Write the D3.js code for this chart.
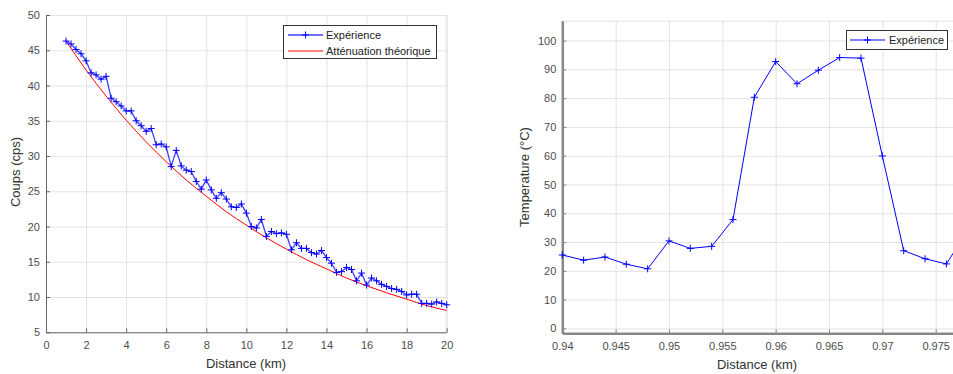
<!DOCTYPE html>
<html>
<head>
<meta charset="utf-8">
<script src="https://cdn.jsdelivr.net/npm/d3@7"></script>
<style>
body{margin:0;background:#fff;}
svg{display:block;font-family:"Liberation Sans",Arial,sans-serif;}
.tick text{fill:#4d4d4d;font-size:11px;}
.grid line{stroke:#e3e3e3;}
.grid path{display:none;}
</style>
</head>
<body>
<svg id="svg" width="953" height="374"></svg>
<script>
// left chart : counts vs distance
const distKm=[1,1.25,1.5,1.75,2,2.25,2.5,2.75,3,3.25,3.5,3.75,4,4.25,4.5,4.75,5,5.25,5.5,5.75,6,6.25,6.5,6.75,7,7.25,7.5,7.75,8,8.25,8.5,8.75,9,9.25,9.5,9.75,10,10.25,10.5,10.75,11,11.25,11.5,11.75,12,12.25,12.5,12.75,13,13.25,13.5,13.75,14,14.25,14.5,14.75,15,15.25,15.5,15.75,16,16.25,16.5,16.75,17,17.25,17.5,17.75,18,18.25,18.5,18.75,19,19.25,19.5,19.75,20];
const coups=[46.3,45.9,45.1,44.5,43.5,41.8,41.5,40.9,41.3,38.2,37.7,37.1,36.4,36.4,35.0,34.3,33.5,33.9,31.6,31.7,31.3,28.5,30.8,28.6,28.0,27.8,26.4,25.3,26.6,25.2,24.0,24.8,23.9,22.8,22.7,23.2,21.9,20.0,19.8,21.0,18.6,19.3,19.0,19.1,18.9,16.7,17.7,16.9,16.9,16.3,16.1,16.6,15.6,14.8,13.5,13.6,14.2,13.9,12.3,13.4,11.7,12.7,12.3,11.8,11.5,11.2,11.1,10.8,10.3,10.4,10.4,9.1,9.1,9.0,9.3,9.1,8.9];
const theoKm=[1,2,3,4,5,6,7,8,9,10,11,12,13,14,15,16,17,18,19,20];
const theoCoups=[46.3,42.2,38.5,35.1,32.0,29.2,26.6,24.3,22.1,20.2,18.4,16.8,15.3,14.0,12.7,11.6,10.6,9.7,8.8,8.1];
const leftXTicks=[0,2,4,6,8,10,12,14,16,18,20];
const leftYTicks=[5,10,15,20,25,30,35,40,45,50];

// right chart : temperature vs distance
const distTemp=[0.940,0.942,0.944,0.946,0.948,0.950,0.952,0.954,0.956,0.958,0.960,0.962,0.964,0.966,0.968,0.970,0.972,0.974,0.976,0.978];
const temperature=[25.5,23.7,24.8,22.3,20.7,30.4,27.8,28.5,37.8,80.3,92.7,85.0,89.7,94.1,93.9,59.9,27.0,24.2,22.4,34.0];
const rightXTicks=[0.94,0.945,0.95,0.955,0.96,0.965,0.97,0.975];
const rightYTicks=[0,10,20,30,40,50,60,70,80,90,100];

const svg=d3.select("#svg");
const blue="#0000ff", red="#ff0000";

// "+" marker path
function plus(s){return "M"+(-s)+",0H"+s+"M0,"+(-s)+"V"+s;}

function drawAxes(g,x,y,xTicks,yTicks,xFmt,axisW,axisCol){
    const [x0,x1]=x.range(), [y0,y1]=y.range();
    // grid
    g.append("g").attr("class","grid").attr("transform","translate(0,"+y0+")")
        .call(d3.axisBottom(x).tickValues(xTicks).tickSize(-(y0-y1)).tickFormat(""));
    g.append("g").attr("class","grid").attr("transform","translate("+x0+",0)")
        .call(d3.axisLeft(y).tickValues(yTicks).tickSize(-(x1-x0)).tickFormat(""));
    // extra grid line at top/right edge
    g.append("line").attr("x1",x0).attr("x2",x1).attr("y1",y1+0.5).attr("y2",y1+0.5).attr("stroke","#e3e3e3");
    g.append("line").attr("x1",x1-0.5).attr("x2",x1-0.5).attr("y1",y0).attr("y2",y1).attr("stroke","#e3e3e3");
    const xa=g.append("g").attr("transform","translate(0,"+y0+")")
        .call(d3.axisBottom(x).tickValues(xTicks).tickSizeInner(-4).tickSizeOuter(0).tickPadding(9).tickFormat(xFmt));
    const ya=g.append("g").attr("transform","translate("+x0+",0)")
        .call(d3.axisLeft(y).tickValues(yTicks).tickSizeInner(-4).tickSizeOuter(0).tickPadding(6));
    [xa,ya].forEach(a=>{
        a.select(".domain").attr("stroke",axisCol).attr("stroke-width",axisW);
        a.selectAll(".tick line").attr("stroke",axisCol);
    });
}

// ---------- left chart
const xL=d3.scaleLinear().domain([0,20]).range([46,446.7]);
const yL=d3.scaleLinear().domain([5,50]).range([332.3,15]);
const gL=svg.append("g");
drawAxes(gL,xL,yL,leftXTicks,leftYTicks,d3.format("d"),1,"#666");

gL.append("path")
    .datum(theoKm.map((d,i)=>[d,theoCoups[i]]))
    .attr("fill","none").attr("stroke",red).attr("stroke-width",1)
    .attr("d",d3.line().x(d=>xL(d[0])).y(d=>yL(d[1])).curve(d3.curveMonotoneX));

const expL=distKm.map((d,i)=>[d,coups[i]]);
gL.append("path").datum(expL)
    .attr("fill","none").attr("stroke",blue).attr("stroke-opacity",0.75).attr("stroke-width",1.3)
    .attr("d",d3.line().x(d=>xL(d[0])).y(d=>yL(d[1])));
gL.selectAll(".mk").data(expL).enter().append("path")
    .attr("transform",d=>"translate("+xL(d[0])+","+yL(d[1])+")")
    .attr("d",plus(3.5)).attr("stroke",blue).attr("stroke-width",1).attr("fill","none");

gL.append("text").attr("x",246).attr("y",368).attr("text-anchor","middle")
    .style("font-size","13px").attr("fill","#333").text("Distance (km)");
gL.append("text").attr("transform","translate(20,172) rotate(-90)").attr("text-anchor","middle")
    .style("font-size","13px").attr("fill","#333").text("Coups (cps)");

// legend left
const lgL=gL.append("g");
lgL.append("rect").attr("x",283.5).attr("y",25.5).attr("width",153).attr("height",33)
    .attr("fill","#fff").attr("stroke","#333").attr("stroke-width",1);
lgL.append("line").attr("x1",288).attr("x2",323).attr("y1",35).attr("y2",35).attr("stroke",blue).attr("stroke-opacity",0.75).attr("stroke-width",1.3);
lgL.append("path").attr("transform","translate(305.5,35)").attr("d",plus(3.5)).attr("stroke",blue);
lgL.append("line").attr("x1",288).attr("x2",323).attr("y1",51).attr("y2",51).attr("stroke",red);
lgL.append("text").attr("x",326).attr("y",39).style("font-size","11px").attr("fill","#222").text("Expérience");
lgL.append("text").attr("x",326).attr("y",55).style("font-size","11px").attr("fill","#222").text("Atténuation théorique");

// ---------- right chart
const xR=d3.scaleLinear().domain([0.94,0.978]).range([562.3,967.7]);
const yR=d3.scaleLinear().domain([-1.7,106.9]).range([333.3,20.7]);
const gR=svg.append("g");
drawAxes(gR,xR,yR,rightXTicks,rightYTicks,d=>String(+d.toFixed(3)),2.5,"#888");

const expR=distTemp.map((d,i)=>[d,temperature[i]]);
gR.append("path").datum(expR)
    .attr("fill","none").attr("stroke",blue).attr("stroke-width",1)
    .attr("d",d3.line().x(d=>xR(d[0])).y(d=>yR(d[1])));
gR.selectAll(".mk").data(expR).enter().append("path")
    .attr("transform",d=>"translate("+xR(d[0])+","+yR(d[1])+")")
    .attr("d",plus(3.5)).attr("stroke",blue).attr("stroke-width",1).attr("fill","none");

gR.append("text").attr("x",757).attr("y",369).attr("text-anchor","middle")
    .style("font-size","13px").attr("fill","#333").text("Distance (km)");
gR.append("text").attr("transform","translate(529,177) rotate(-90)").attr("text-anchor","middle")
    .style("font-size","13px").attr("fill","#333").text("Temperature (°C)");

// legend right
const lgR=gR.append("g");
lgR.append("rect").attr("x",846.5).attr("y",30.5).attr("width",101).attr("height",19)
    .attr("fill","#fff").attr("stroke","#333").attr("stroke-width",1);
lgR.append("line").attr("x1",850).attr("x2",885).attr("y1",40).attr("y2",40).attr("stroke",blue);
lgR.append("path").attr("transform","translate(867.5,40)").attr("d",plus(3.5)).attr("stroke",blue);
lgR.append("text").attr("x",889).attr("y",44).style("font-size","11px").attr("fill","#222").text("Expérience");
</script>
</body>
</html>
